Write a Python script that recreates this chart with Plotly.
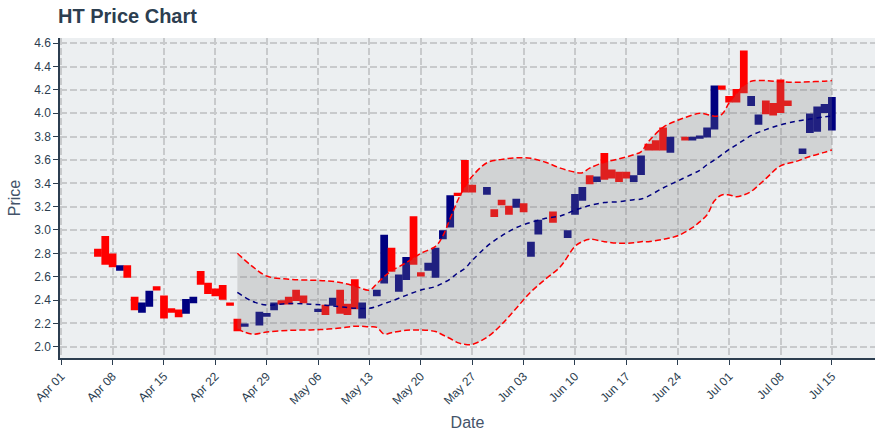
import plotly.graph_objects as go

# ---- candle data (2019) ----
dates = ["2019-04-06","2019-04-07","2019-04-08","2019-04-09","2019-04-10","2019-04-11","2019-04-12",
         "2019-04-13","2019-04-14","2019-04-15","2019-04-16","2019-04-17","2019-04-18","2019-04-19",
         "2019-04-20","2019-04-21","2019-04-22","2019-04-23","2019-04-24","2019-04-25","2019-04-26",
         "2019-04-28","2019-04-29","2019-04-30","2019-05-01","2019-05-02","2019-05-03","2019-05-04",
         "2019-05-06","2019-05-07","2019-05-08","2019-05-09","2019-05-10","2019-05-11","2019-05-12",
         "2019-05-14","2019-05-15","2019-05-16","2019-05-17","2019-05-18","2019-05-19","2019-05-20",
         "2019-05-21","2019-05-22","2019-05-23","2019-05-24","2019-05-25","2019-05-26","2019-05-27",
         "2019-05-29","2019-05-30","2019-05-31","2019-06-01","2019-06-02","2019-06-03","2019-06-04",
         "2019-06-05","2019-06-07","2019-06-09","2019-06-10","2019-06-11","2019-06-12","2019-06-13",
         "2019-06-14","2019-06-15","2019-06-16","2019-06-17","2019-06-18","2019-06-19","2019-06-20",
         "2019-06-21","2019-06-22","2019-06-23","2019-06-25","2019-06-26","2019-06-27","2019-06-28",
         "2019-06-29","2019-06-30","2019-07-01","2019-07-02","2019-07-03","2019-07-04","2019-07-05",
         "2019-07-06","2019-07-07","2019-07-08","2019-07-09","2019-07-11","2019-07-12","2019-07-13",
         "2019-07-14","2019-07-15"]
opens = [2.83,2.94,2.79,2.66,2.69,2.42,2.30,
         2.35,2.51,2.43,2.32,2.31,2.29,2.38,
         2.64,2.54,2.49,2.52,2.37,2.23,2.18,
         2.19,2.265,2.32,2.39,2.42,2.48,2.43,
         2.306,2.35,2.36,2.48,2.36,2.57,2.25,
         2.44,2.55,2.84,2.48,2.58,3.11,2.63,
         2.66,2.60,2.93,3.03,3.31,3.59,3.38,
         3.31,3.17,3.25,3.20,3.20,3.22,2.78,
         2.97,3.15,2.94,3.14,3.26,3.46,3.42,
         3.65,3.51,3.49,3.49,3.42,3.48,3.73,
         3.76,3.87,3.67,3.79,3.775,3.79,3.80,
         3.87,4.23,4.14,4.20,4.53,4.07,3.91,
         4.10,4.08,4.28,4.10,3.66,3.84,3.85,
         4.01,3.86]
closes = [2.78,2.71,2.69,2.69,2.60,2.32,2.37,
          2.47,2.49,2.25,2.30,2.26,2.40,2.42,
          2.54,2.46,2.44,2.41,2.36,2.14,2.19,
          2.29,2.28,2.37,2.37,2.37,2.40,2.38,
          2.316,2.28,2.41,2.29,2.28,2.33,2.37,
          2.48,2.95,2.65,2.61,2.76,2.71,2.61,
          2.71,2.84,2.99,3.29,3.30,3.33,3.33,
          3.36,3.12,3.22,3.14,3.26,3.16,2.89,
          3.08,3.07,2.99,3.30,3.36,3.40,3.45,
          3.44,3.45,3.42,3.45,3.46,3.63,3.69,
          3.69,3.69,3.79,3.775,3.79,3.80,3.87,
          4.23,4.21,4.10,4.10,4.18,4.14,3.98,
          4.00,3.99,4.01,4.07,3.69,3.99,4.05,
          4.07,4.13]

# ---- Bollinger band values ----
band_dates = ["2019-04-25","2019-04-27","2019-04-29","2019-05-02","2019-05-05","2019-05-07","2019-05-09",
              "2019-05-11","2019-05-13","2019-05-14","2019-05-15","2019-05-16","2019-05-18","2019-05-20",
              "2019-05-22","2019-05-23","2019-05-24","2019-05-25","2019-05-26","2019-05-27","2019-05-29",
              "2019-05-31","2019-06-02","2019-06-04","2019-06-06","2019-06-08","2019-06-10","2019-06-11",
              "2019-06-12","2019-06-14","2019-06-16","2019-06-18","2019-06-19","2019-06-20","2019-06-22",
              "2019-06-24","2019-06-26","2019-06-27","2019-06-28","2019-06-29","2019-06-30","2019-07-01",
              "2019-07-02","2019-07-03","2019-07-04","2019-07-06","2019-07-08","2019-07-10","2019-07-12",
              "2019-07-14","2019-07-15"]
band_upper = [2.80,2.69,2.605,2.578,2.57,2.565,2.55,
              2.52,2.485,2.54,2.60,2.65,2.72,2.80,
              2.86,2.95,3.10,3.25,3.37,3.46,3.576,
              3.605,3.619,3.614,3.58,3.53,3.495,3.49,
              3.53,3.58,3.61,3.645,3.67,3.756,3.88,
              3.94,3.985,4.0,3.99,3.975,3.99,4.09,
              4.17,4.24,4.275,4.28,4.27,4.265,4.27,
              4.275,4.28]
band_mid = [2.465,2.39,2.357,2.37,2.363,2.355,2.342,
            2.33,2.329,2.345,2.37,2.39,2.44,2.485,
            2.515,2.545,2.58,2.63,2.67,2.74,2.86,
            2.95,3.02,3.065,3.10,3.12,3.17,3.19,
            3.21,3.235,3.242,3.26,3.265,3.29,3.36,
            3.42,3.48,3.51,3.56,3.60,3.645,3.69,
            3.73,3.77,3.81,3.86,3.90,3.93,3.95,
            3.97,3.975]
band_lower = [2.15,2.108,2.125,2.14,2.143,2.149,2.16,
              2.175,2.17,2.165,2.108,2.12,2.14,2.143,
              2.13,2.10,2.07,2.035,2.02,2.02,2.08,
              2.19,2.33,2.47,2.58,2.685,2.86,2.90,
              2.92,2.90,2.886,2.89,2.90,2.90,2.92,
              2.95,3.02,3.07,3.13,3.25,3.30,3.30,
              3.285,3.30,3.33,3.44,3.55,3.585,3.63,
              3.665,3.685]

highs = [max(o, c) for o, c in zip(opens, closes)]
lows = [min(o, c) for o, c in zip(opens, closes)]

TXT = "#2c3e50"
fig = go.Figure()
fig.add_trace(go.Candlestick(
    x=dates, open=opens, high=highs, low=lows, close=closes,
    increasing=dict(fillcolor="#000080", line=dict(color="#000080", width=2)),
    decreasing=dict(fillcolor="#ff0000", line=dict(color="#ff0000", width=2)),
    showlegend=False, name="HT"))
fig.add_trace(go.Scatter(x=band_dates, y=band_lower, mode="lines",
                         line=dict(color="#ff0000", width=1.5, dash="6px,3px", shape="spline"),
                         showlegend=False, name="Lower"))
fig.add_trace(go.Scatter(x=band_dates, y=band_upper, mode="lines", fill="tonexty",
                         fillcolor="rgba(128,128,128,0.25)",
                         line=dict(color="#ff0000", width=1.5, dash="6px,3px", shape="spline"),
                         showlegend=False, name="Upper"))
fig.add_trace(go.Scatter(x=band_dates, y=band_mid, mode="lines",
                         line=dict(color="#000080", width=1.5, dash="5px,4px", shape="spline"),
                         showlegend=False, name="Middle"))

grid = dict(showgrid=True, gridcolor="#c8cacc", gridwidth=1.5, griddash="7px,3px",
            showline=True, linecolor="#2c3e50", linewidth=1.5,
            ticks="outside", ticklen=5, tickcolor="#2c3e50",
            tickfont=dict(family="Liberation Sans, Arial", size=12, color=TXT),
            zeroline=False, automargin=False)

fig.update_layout(
    width=880, height=440,
    margin=dict(l=60, r=5, t=38, b=82),
    paper_bgcolor="white", plot_bgcolor="#eceff1",
    boxgap=0.22, boxgroupgap=0,
    title=dict(text="<b>HT Price Chart</b>", x=58/880, xref="container", xanchor="left",
               y=1-16/440, yref="container", yanchor="middle",
               font=dict(family="Liberation Sans, Arial", size=20, color=TXT)),
    xaxis=dict(grid, type="date", range=["2019-03-31 20:00", "2019-07-20 21:00"],
               tick0="2019-04-01", dtick=7*24*3600*1000, tickformat="%b %d", tickangle=-45,
               rangeslider=dict(visible=False),
               title=dict(text="Date", font=dict(family="Liberation Sans, Arial", size=16, color="#44546a"),
                          standoff=10)),
    yaxis=dict(grid, range=[1.903, 4.645], dtick=0.2, tickformat=".1f",
               title=dict(text="Price", font=dict(family="Liberation Sans, Arial", size=16, color="#44546a"),
                          standoff=10)),
    showlegend=False,
)

fig.write_html("out.html")
